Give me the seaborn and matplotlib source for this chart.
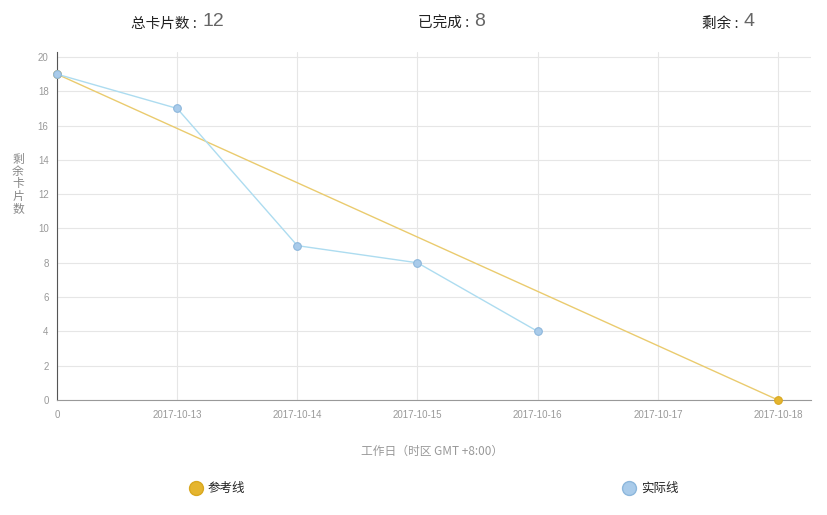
import matplotlib
matplotlib.use("Agg")
import matplotlib.pyplot as plt
import seaborn as sns
import pandas as pd

# ---- data ----
tick_labels = ["0", "2017-10-13", "2017-10-14", "2017-10-15", "2017-10-16", "2017-10-17", "2017-10-18"]
ref_x = [0, 6]
ref_y = [19, 0]
act_x = [0, 1, 2, 3, 4]
act_y = [19, 17, 9, 8, 4]
y_ticks = [0, 2, 4, 6, 8, 10, 12, 14, 16, 18, 20]
summary_labels = ["总卡片数 : ", "已完成 : ", "剩余 : "]
summary_values = ["12", "8", "4"]
series_names = ["参考线", "实际线"]

sns.set_theme(style="white")
plt.rcParams["font.family"] = ["Noto Sans CJK SC", "DejaVu Sans"]

REF_LINE = "#EACB6E"
REF_MARK = "#E5B52F"
ACT_LINE = "#ADDCF0"
ACT_MARK = "#A9CBEA"
ACT_EDGE = "#8DB7DC"

W, H = 827, 515
fig = plt.figure(figsize=(W / 100, H / 100), dpi=100)
ax = fig.add_axes([57 / W, 1 - 400 / H, (811 - 57) / W, (400 - 52) / H])

df_ref = pd.DataFrame({"x": ref_x, "y": ref_y})
df_act = pd.DataFrame({"x": act_x, "y": act_y})

sns.lineplot(data=df_ref, x="x", y="y", ax=ax, color=REF_LINE, linewidth=1.0,
             marker="o", markersize=5.5, markerfacecolor=REF_MARK,
             markeredgecolor="#D9A820", markeredgewidth=0.8, zorder=3, clip_on=False)
sns.lineplot(data=df_act, x="x", y="y", ax=ax, color=ACT_LINE, linewidth=1.0,
             marker="o", markersize=5.5, markerfacecolor=ACT_MARK,
             markeredgecolor=ACT_EDGE, markeredgewidth=0.8, zorder=4, clip_on=False)

ax.set_xlim(0, (811 - 57) / ((778 - 57) / 6))
ax.set_ylim(0, 20 + 5 / ((400 - 57) / 20))
ax.set_xticks(range(len(tick_labels)))
ax.set_xticklabels(tick_labels)
ax.set_yticks(y_ticks)
ax.tick_params(axis="both", labelsize=7, colors="#999999", length=0)
for lab in ax.get_xticklabels() + ax.get_yticklabels():
    lab.set_color("#999999")
    lab.set_family(["Liberation Sans", "DejaVu Sans"])
ax.tick_params(axis="x", pad=7)
ax.tick_params(axis="y", pad=6)
ax.grid(True, color="#E6E6E6", linewidth=0.8)
ax.set_axisbelow(True)
for s in ["top", "right"]:
    ax.spines[s].set_visible(False)
ax.spines["left"].set_color("#555555")
ax.spines["left"].set_linewidth(0.8)
ax.spines["bottom"].set_color("#999999")
ax.spines["bottom"].set_linewidth(0.8)
ax.set_xlabel("")
ax.set_ylabel("")

# axis titles
fig.text(18 / W, 1 - 184 / H, "\n".join("剩余卡片数"), ha="center", va="center",
         fontsize=8.5, color="#888888", linespacing=0.95)
fig.text(432 / W, 1 - 451 / H, "工作日（时区 GMT +8:00）", ha="center", va="center",
         fontsize=8.5, color="#999999")

# header summary
head_x = [200, 472, 742]
for hx, lab, val in zip(head_x, summary_labels, summary_values):
    fig.text(hx / W, 1 - 24 / H, lab, ha="right", va="center", fontsize=10.5, color="#222222")
    fig.text((hx + 2) / W, 1 - 22 / H, val, ha="left", va="center", fontsize=14,
             color="#666666", family=["Liberation Sans", "DejaVu Sans"])

# legend
leg_pts = [(196, REF_MARK, "#D9A820"), (629, ACT_MARK, ACT_EDGE)]
for (lx, fc, ec), name in zip(leg_pts, series_names):
    fig.add_artist(plt.Line2D([lx / W], [1 - 488 / H], marker="o", markersize=10,
                              markerfacecolor=fc, markeredgecolor=ec, markeredgewidth=1,
                              linestyle="none", transform=fig.transFigure))
    fig.text((lx + 12) / W, 1 - 488 / H, name, ha="left", va="center", fontsize=9, color="#222222")

fig.savefig("out.png", dpi=100)
